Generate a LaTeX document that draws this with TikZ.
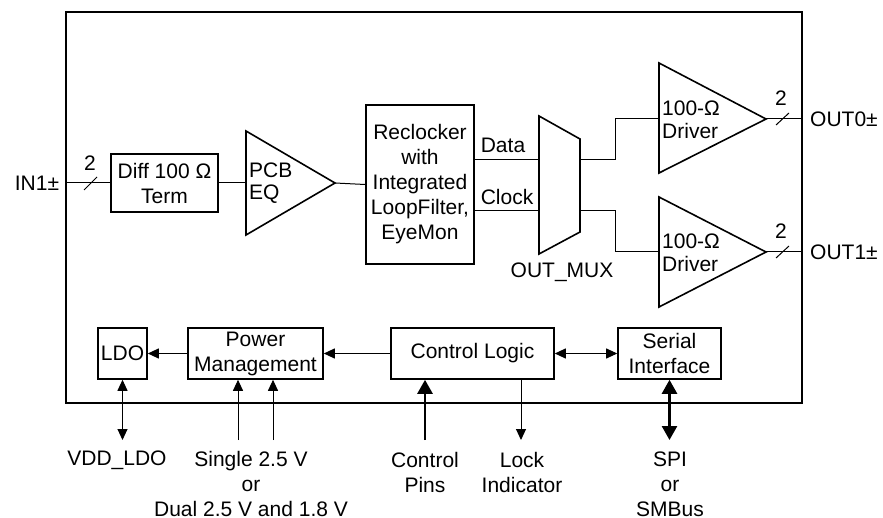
\documentclass[tikz,border=0pt]{standalone}
\usepackage{fontspec}
\setmainfont{Liberation Sans}
\usetikzlibrary{arrows.meta}
\begin{document}
\begin{tikzpicture}[x=1pt,y=-1pt,
  every node/.style={font=\fontsize{21}{25}\selectfont, inner sep=0pt},
  blk/.style={draw, line width=1.6pt, align=center},
  shp/.style={line width=1.6pt, line join=miter},
  wire/.style={line width=1pt},
  arr/.style={line width=1pt, -{Triangle[length=11pt,width=10pt]}},
  arrb/.style={line width=1pt, {Triangle[length=11pt,width=10pt]}-{Triangle[length=11pt,width=10pt]}},
  tarr/.style={line width=2.6pt, -{Triangle[length=14pt,width=15pt]}},
  tarrb/.style={line width=2.6pt, {Triangle[length=14pt,width=15pt]}-{Triangle[length=14pt,width=15pt]}},
  lbl/.style={align=center}
]
\useasboundingbox (0,0) rectangle (883,518);

% chip outline
\node[draw, line width=1.6pt, minimum width=736pt, minimum height=391pt] (chip) at (434,207.5) {};

% input
\node (in1) at (37,183) {IN1±};
\coordinate (inl) at (66,183);
\node[blk, minimum width=107pt, minimum height=58pt] (diff) at (164.5,183) {Diff 100 Ω\\Term};
\draw[wire] (inl) -- (diff.west);
\draw[wire] (84,190) -- (97,177);
\node (n2a) at (90,163) {2};

% PCB EQ
\coordinate (eqin) at (246,183);
\coordinate (eqtip) at (335,183);
\draw[shp] (246,131) -- (eqtip) -- (246,235) -- cycle;
\node[align=left, anchor=west, font=\fontsize{21}{22}\selectfont] (eqt) at (249,183) {PCB\\EQ};
\draw[wire] (diff.east) -- (eqin);

% Reclocker
\node[blk, minimum width=108pt, minimum height=159pt] (rc) at (420,184.5) {Reclocker\\with\\Integrated\\LoopFilter,\\EyeMon};
\draw[wire] (eqtip) -- (rc.west);

% MUX
\draw[shp] (539,116) -- (580,139) -- (580,232) -- (539,254) -- cycle;
\coordinate (muxd) at (539,160);
\coordinate (muxc) at (539,211);
\draw[wire] (muxd -| rc.east) -- (muxd);
\draw[wire] (muxc -| rc.east) -- (muxc);
\node (data) at (503,145) {Data};
\node (clock) at (507,197) {Clock};
\node (outmux) at (562,272) {OUT\_MUX};

% Drivers
\coordinate (d0in) at (659,119);
\coordinate (d1in) at (659,252);
\coordinate (d0tip) at (766,119);
\coordinate (d1tip) at (766,252);
\draw[shp] (659,63) -- (d0tip) -- (659,173) -- cycle;
\draw[shp] (659,197) -- (d1tip) -- (659,307) -- cycle;
\node[align=left, anchor=west, font=\fontsize{21}{23}\selectfont] (d0t) at (662,119.5) {100-Ω\\Driver};
\node[align=left, anchor=west, font=\fontsize{21}{23}\selectfont] (d1t) at (662,252.5) {100-Ω\\Driver};
\draw[wire] (580,160) -- (615,160) -- (615,119) -- (d0in);
\draw[wire] (580,211) -- (615,211) -- (615,252) -- (d1in);

% outputs
\coordinate (o0) at (802,119);
\coordinate (o1) at (802,252);
\draw[wire] (d0tip) -- (o0);
\draw[wire] (d1tip) -- (o1);
\draw[wire] (776,125) -- (789,113);
\draw[wire] (776,258) -- (789,246);
\node (n2b) at (781,98) {2};
\node (n2c) at (781,231) {2};
\node[anchor=west] (out0) at (810,119) {OUT0±};
\node[anchor=west] (out1) at (810,252) {OUT1±};

% bottom blocks
\node[blk, minimum width=49pt, minimum height=51pt] (ldo) at (122.5,353.5) {LDO};
\node[blk, minimum width=135pt, minimum height=51pt] (pm) at (255.5,353.5) {Power\\Management};
\node[blk, minimum width=163pt, minimum height=51pt] (cl) at (472.5,353.5) {Control Logic};
\node[blk, minimum width=103pt, minimum height=51pt] (si) at (669.5,353.5) {Serial\\Interface};

\draw[arr] (pm.west) -- (ldo.east);
\draw[arr] (cl.west) -- (pm.east);
\draw[arrb] (cl.east) -- (si.west);

% external connections
\coordinate (vdd) at (122.5,440);
\coordinate (p1) at (238,440);
\coordinate (p2) at (273,440);
\coordinate (cp) at (425,440);
\coordinate (lk) at (521,440);
\coordinate (spi) at (669.5,440);
\draw[arrb] (ldo.south) -- (vdd);
\draw[arr] (p1) -- (p1 |- pm.south);
\draw[arr] (p2) -- (p2 |- pm.south);
\draw[tarr] (cp) -- (cp |- cl.south);
\draw[arr] (lk |- cl.south) -- (lk);
\draw[tarrb] (si.south) -- (spi);

\node (vddl) at (117,460) {VDD\_LDO};
\node[lbl] (supl) at (251,484) {Single 2.5 V\\or\\Dual 2.5 V and 1.8 V};
\node[lbl] (cpl) at (425,472.5) {Control\\Pins};
\node[lbl] (lkl) at (522,472.5) {Lock\\Indicator};
\node[lbl] (spil) at (670,484) {SPI\\or\\SMBus};
\end{tikzpicture}
\end{document}
